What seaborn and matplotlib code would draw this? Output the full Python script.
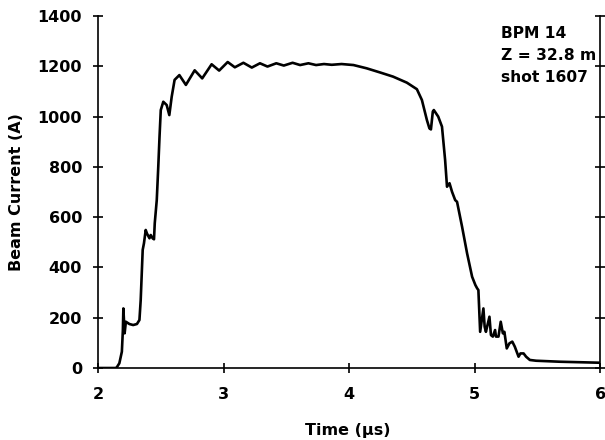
import numpy as np
import pandas as pd
import matplotlib
matplotlib.use("Agg")
import matplotlib.pyplot as plt
import seaborn as sns

# beam current trace
time_us = [2.00, 2.14, 2.15, 2.17, 2.19, 2.198, 2.202, 2.212, 2.222, 2.25,
           2.28, 2.31, 2.33, 2.34, 2.356, 2.366, 2.38, 2.39, 2.41, 2.42,
           2.435, 2.446, 2.452, 2.468, 2.48, 2.49, 2.50, 2.52, 2.547, 2.568,
           2.587, 2.61, 2.648, 2.70, 2.77, 2.83, 2.905, 2.965, 3.033, 3.09,
           3.158, 3.225, 3.29, 3.35, 3.42, 3.48, 3.55, 3.61, 3.676, 3.737,
           3.80, 3.862, 3.94, 4.035, 4.14, 4.25, 4.35, 4.46, 4.54, 4.58,
           4.62, 4.64, 4.652, 4.667, 4.675, 4.71, 4.74, 4.765, 4.78, 4.80,
           4.82, 4.845, 4.86, 4.90, 4.94, 4.98, 5.006, 5.02, 5.03, 5.044,
           5.07, 5.08, 5.09, 5.118, 5.13, 5.145, 5.163, 5.17, 5.19, 5.208,
           5.225, 5.237, 5.256, 5.277, 5.30, 5.32, 5.35, 5.365, 5.39, 5.41,
           5.44, 5.49, 5.68, 6.00]
current_A = [0, 0, 3, 19, 65, 150, 237, 138, 184, 175,
             171, 175, 191, 270, 470, 496, 549, 535, 516, 529,
             516, 512, 576, 668, 800, 920, 1026, 1059, 1046, 1006,
             1079, 1146, 1165, 1126, 1184, 1152, 1208, 1183, 1217, 1196,
             1214, 1195, 1212, 1199, 1212, 1203, 1214, 1205, 1212, 1205,
             1209, 1206, 1209, 1205, 1192, 1175, 1159, 1135, 1109, 1066,
             986, 953, 949, 1020, 1026, 1000, 960, 827, 721, 735,
             701, 668, 661, 562, 456, 363, 330, 317, 310, 144,
             237, 164, 144, 204, 131, 125, 151, 125, 125, 184,
             138, 144, 78, 98, 105, 85, 45, 58, 58, 45,
             32, 29, 25, 21]

x_ticks = [2, 3, 4, 5, 6]
y_ticks = [0, 200, 400, 600, 800, 1000, 1200, 1400]
label_text = "BPM 14\nZ = 32.8 m\nshot 1607"

df = pd.DataFrame({"t": time_us, "I": current_A})

sns.set_style("white")
plt.rcParams["font.family"] = ["DejaVu Sans"]
plt.rcParams["font.weight"] = "bold"
plt.rcParams["text.color"] = "black"
plt.rcParams["axes.labelcolor"] = "black"

fig = plt.figure(figsize=(6.05, 4.4), dpi=100)
ax = fig.add_axes([0.162, 0.1636, 0.830, 0.800])

sns.lineplot(data=df, x="t", y="I", color="black", linewidth=1.9, ax=ax,
             estimator=None, sort=False)

ax.set_xlim(2, 6)
ax.set_ylim(0, 1400)
ax.set_xticks(x_ticks)
ax.set_yticks(y_ticks)

for s in ["left", "bottom", "right"]:
    ax.spines[s].set_color("black")
    ax.spines[s].set_linewidth(1.2)
ax.spines["top"].set_visible(False)

ax.tick_params(axis="both", direction="inout", length=7, width=1.2,
               color="black", labelsize=11.5, labelcolor="black")
ax.tick_params(axis="y", pad=8, right=True, left=True)
ax.tick_params(axis="x", pad=10, bottom=True)
for lab in ax.get_xticklabels() + ax.get_yticklabels():
    lab.set_fontweight("bold")

ax.set_xlabel("Time (μs)", fontsize=11.5, fontweight="bold", color="black")
ax.set_ylabel("Beam Current (A)", fontsize=11.5, fontweight="bold", color="black")
ax.xaxis.set_label_coords(0.498, -0.156)
ax.yaxis.set_label_coords(-0.147, 0.5)

ax.text(5.21, 1362, label_text, ha="left", va="top", fontsize=11.2,
        fontweight="bold", color="black", linespacing=1.6)

fig.savefig("out.png", dpi=100)
